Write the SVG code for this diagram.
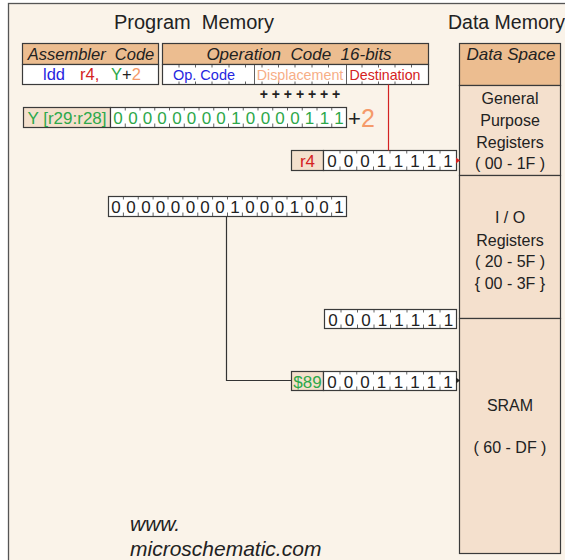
<svg xmlns="http://www.w3.org/2000/svg" width="565" height="560" viewBox="0 0 565 560">
  <style>
    .t { font-family: "Liberation Sans", Arial, sans-serif; }
    .hdr { fill: #ECBD90; stroke: #3a3a3a; stroke-width: 1.2; }
    .lt { fill: #F4E0CD; stroke: #3a3a3a; stroke-width: 1.2; }
    .wh { fill: #ffffff; stroke: #3a3a3a; stroke-width: 1.2; }
    .tick { stroke: #3a3a3a; stroke-width: 0.8; }
    .bits { font-family: "Liberation Sans", Arial, sans-serif; font-size: 17px; text-anchor: middle; }
    .reg { font-family: "Liberation Sans", Arial, sans-serif; font-size: 16px; fill: #222; text-anchor: middle; }
    .green { fill: #2DA84A; }
    .blue { fill: #2626E0; }
    .red { fill: #D42222; }
    .orange { fill: #F59A6A; }
  </style>
  <defs>
    <marker id="arrowK" markerWidth="5" markerHeight="6" refX="4" refY="3" orient="auto" markerUnits="userSpaceOnUse">
      <path d="M0,0 L4,3 L0,6 Z" fill="#222"/>
    </marker>
    <marker id="arrowR" markerWidth="5" markerHeight="6" refX="4" refY="3" orient="auto" markerUnits="userSpaceOnUse">
      <path d="M0,0 L4,3 L0,6 Z" fill="#D42222"/>
    </marker>
  </defs>

  <!-- background panel -->
  <rect x="0" y="0" width="565" height="560" fill="#ffffff"/>
  <rect x="8.5" y="3.5" width="570" height="570" fill="#FAF3E9" stroke="#555" stroke-width="1.3"/>

  <!-- section titles -->
  <text class="t" x="194" y="29" font-size="20" text-anchor="middle" fill="#222" xml:space="preserve">Program  Memory</text>
  <text class="t" x="448" y="29" font-size="19.5" fill="#222">Data Memory</text>

  <!-- assembler code -->
  <g id="assembler">
    <rect class="hdr" x="22.5" y="43.5" width="136" height="21"/>
    <rect class="wh" x="22.5" y="64.5" width="136" height="20"/>
    <text class="t" x="91" y="60" font-size="16.5" font-style="italic" text-anchor="middle" fill="#222" xml:space="preserve">Assembler  Code</text>
    <text class="t" y="80" font-size="16.5"><tspan class="blue" x="43">ldd</tspan><tspan class="red" x="80">r4,</tspan><tspan class="green" x="111">Y</tspan><tspan fill="#222">+</tspan><tspan class="orange">2</tspan></text>
  </g>

  <!-- operation code -->
  <g id="opcode">
    <rect class="hdr" x="162.5" y="43.5" width="266" height="21"/>
    <rect class="wh" x="162.5" y="64.5" width="266" height="20"/>
    <text class="t" x="299" y="60" font-size="17" font-style="italic" text-anchor="middle" fill="#222" xml:space="preserve">Operation  Code  16-bits</text>
    <line class="tick" x1="254.5" y1="64.5" x2="254.5" y2="84.5"/>
    <line class="tick" x1="346.5" y1="64.5" x2="346.5" y2="84.5"/>
    <g class="tick">
      <path d="M179,64.5v3M179,84.5v-3M195.5,64.5v3M195.5,84.5v-3M212,64.5v3M212,84.5v-3M229,64.5v3M229,84.5v-3M245.5,64.5v3M245.5,84.5v-3M262,64.5v3M262,84.5v-3M278.5,64.5v3M278.5,84.5v-3M295,64.5v3M295,84.5v-3M312,64.5v3M312,84.5v-3M328.5,64.5v3M328.5,84.5v-3M362,64.5v3M362,84.5v-3M378.5,64.5v3M378.5,84.5v-3M395,64.5v3M395,84.5v-3M411.5,64.5v3M411.5,84.5v-3"/>
    </g>
    <text class="t blue" x="204" y="80" font-size="14.5" text-anchor="middle">Op. Code</text>
    <text class="t" x="300" y="80" font-size="14.3" text-anchor="middle" fill="#F7AE86">Displacement</text>
    <text class="t red" x="385" y="80" font-size="14.2" text-anchor="middle">Destination</text>
  </g>

  <!-- displacement plus signs -->
  <text class="t" x="300" y="99" font-size="14" font-weight="bold" text-anchor="middle" fill="#222" xml:space="preserve">+ + + + + + +</text>

  <!-- Y pointer register -->
  <g id="y-pointer">
    <rect class="lt" x="23.5" y="107.5" width="87" height="20"/>
    <text class="t green" x="67" y="124" font-size="17" text-anchor="middle">Y [r29:r28]</text>
    <rect class="wh" x="110.5" y="107.5" width="236" height="20"/>
    <path class="tick" d="M125.25,107.5v3M125.25,127.5v-4M140,107.5v3M140,127.5v-4M154.75,107.5v3M154.75,127.5v-4M169.5,107.5v3M169.5,127.5v-4M184.25,107.5v3M184.25,127.5v-4M199,107.5v3M199,127.5v-4M213.75,107.5v3M213.75,127.5v-4M228.5,107.5v3M228.5,127.5v-4M243.25,107.5v3M243.25,127.5v-4M258,107.5v3M258,127.5v-4M272.75,107.5v3M272.75,127.5v-4M287.5,107.5v3M287.5,127.5v-4M302.25,107.5v3M302.25,127.5v-4M317,107.5v3M317,127.5v-4M331.75,107.5v3M331.75,127.5v-4"/>
    <text class="bits green" x="118 133 147.5 162 177 191.5 206.5 221 236 250.5 265.5 280 295 309.5 324.5 339" y="124">0000000010000111</text>
    <text class="t" x="348" y="126" font-size="22" fill="#222">+</text>
    <text class="t orange" x="361" y="127" font-size="25">2</text>
  </g>

  <!-- destination register r4 -->
  <g id="r4">
    <rect class="lt" x="291.5" y="150.5" width="32" height="20"/>
    <text class="t red" x="307.5" y="167" font-size="17" text-anchor="middle">r4</text>
    <rect class="wh" x="323.5" y="150.5" width="133" height="20"/>
    <path class="tick" d="M340,150.5v3M340,170.5v-4M356.75,150.5v3M356.75,170.5v-4M373.5,150.5v3M373.5,170.5v-4M390,150.5v3M390,170.5v-4M406.75,150.5v3M406.75,170.5v-4M423.5,150.5v3M423.5,170.5v-4M440,150.5v3M440,170.5v-4"/>
    <text class="bits" fill="#222" x="332 348.5 365 381.5 398.5 415 431.5 448" y="167">00011111</text>
  </g>

  <!-- effective address Y+2 -->
  <g id="address">
    <rect class="wh" x="108.5" y="196.5" width="238" height="20"/>
    <path class="tick" d="M123.4,196.5v3M123.4,216.5v-4M138.25,196.5v3M138.25,216.5v-4M153.1,196.5v3M153.1,216.5v-4M168,196.5v3M168,216.5v-4M182.9,196.5v3M182.9,216.5v-4M197.75,196.5v3M197.75,216.5v-4M212.6,196.5v3M212.6,216.5v-4M227.5,196.5v3M227.5,216.5v-4M242.4,196.5v3M242.4,216.5v-4M257.25,196.5v3M257.25,216.5v-4M272.1,196.5v3M272.1,216.5v-4M287,196.5v3M287,216.5v-4M301.9,196.5v3M301.9,216.5v-4M316.75,196.5v3M316.75,216.5v-4M331.6,196.5v3M331.6,216.5v-4"/>
    <text class="bits" fill="#222" x="116 131 146 160.5 175.5 190.5 205 220 235 250 264.5 279.5 294.5 309.5 324 339" y="213">0000000010001001</text>
  </g>

  <!-- I/O register value -->
  <g id="io-value">
    <rect class="wh" x="324.5" y="309.5" width="132" height="19"/>
    <path class="tick" d="M341,309.5v3M341,328.5v-4M357.5,309.5v3M357.5,328.5v-4M374,309.5v3M374,328.5v-4M390.5,309.5v3M390.5,328.5v-4M407,309.5v3M407,328.5v-4M423.5,309.5v3M423.5,328.5v-4M440,309.5v3M440,328.5v-4"/>
    <text class="bits" fill="#222" x="333 349.5 366 382.5 399 415.5 432 448.5" y="325.5">00011111</text>
  </g>

  <!-- SRAM location $89 -->
  <g id="sram-89">
    <rect class="lt" x="291.5" y="371.5" width="32" height="19"/>
    <text class="t green" x="307.5" y="387.5" font-size="17" text-anchor="middle">$89</text>
    <rect class="wh" x="323.5" y="371.5" width="133" height="19"/>
    <path class="tick" d="M340,371.5v3M340,390.5v-4M356.75,371.5v3M356.75,390.5v-4M373.5,371.5v3M373.5,390.5v-4M390,371.5v3M390,390.5v-4M406.75,371.5v3M406.75,390.5v-4M423.5,371.5v3M423.5,390.5v-4M440,371.5v3M440,390.5v-4"/>
    <text class="bits" fill="#222" x="332 348.5 365 381.5 398.5 415 431.5 448" y="387.5">00011111</text>
  </g>

  <!-- data space map -->
  <g id="data-space">
    <rect class="hdr" x="459.5" y="43.5" width="101" height="42"/>
    <text class="t" x="511" y="60" font-size="17" font-style="italic" text-anchor="middle" fill="#222">Data Space</text>
  </g>
  <g id="gpr">
    <rect class="lt" x="459.5" y="85.5" width="101" height="90"/>
    <text class="reg" x="510" y="104">General</text>
    <text class="reg" x="510" y="126">Purpose</text>
    <text class="reg" x="510" y="148">Registers</text>
    <text class="reg" x="510" y="169">( 00 - 1F )</text>
  </g>
  <g id="io-registers">
    <rect class="lt" x="459.5" y="175.5" width="101" height="143"/>
    <text class="reg" x="510" y="223">I / O</text>
    <text class="reg" x="510" y="246">Registers</text>
    <text class="reg" x="510" y="267">( 20 - 5F )</text>
    <text class="reg" x="510" y="289">{ 00 - 3F }</text>
  </g>
  <g id="sram">
    <rect class="lt" x="459.5" y="318.5" width="101" height="235"/>
    <text class="reg" x="510" y="411">SRAM</text>
    <text class="reg" x="510" y="453">( 60 - DF )</text>
  </g>

  <!-- connectors -->
  <g id="connectors" fill="none">
    <line x1="388.5" y1="84.5" x2="388.5" y2="150.5" stroke="#D42222" stroke-width="1.2"/>
    <line x1="456.5" y1="160.5" x2="460" y2="160.5" stroke="#D42222" stroke-width="1" marker-end="url(#arrowR)"/>
    <polyline points="226.5,216.5 226.5,380.5 291.5,380.5" stroke="#333" stroke-width="1.2"/>
    <line x1="456.5" y1="380.5" x2="460" y2="380.5" stroke="#222" stroke-width="1" marker-end="url(#arrowK)"/>
  </g>

  <!-- site credit -->
  <text class="t" x="130" y="531" font-size="21" font-style="italic" fill="#222">www.</text>
  <text class="t" x="130" y="556" font-size="21" font-style="italic" fill="#222">microschematic.com</text>
</svg>
